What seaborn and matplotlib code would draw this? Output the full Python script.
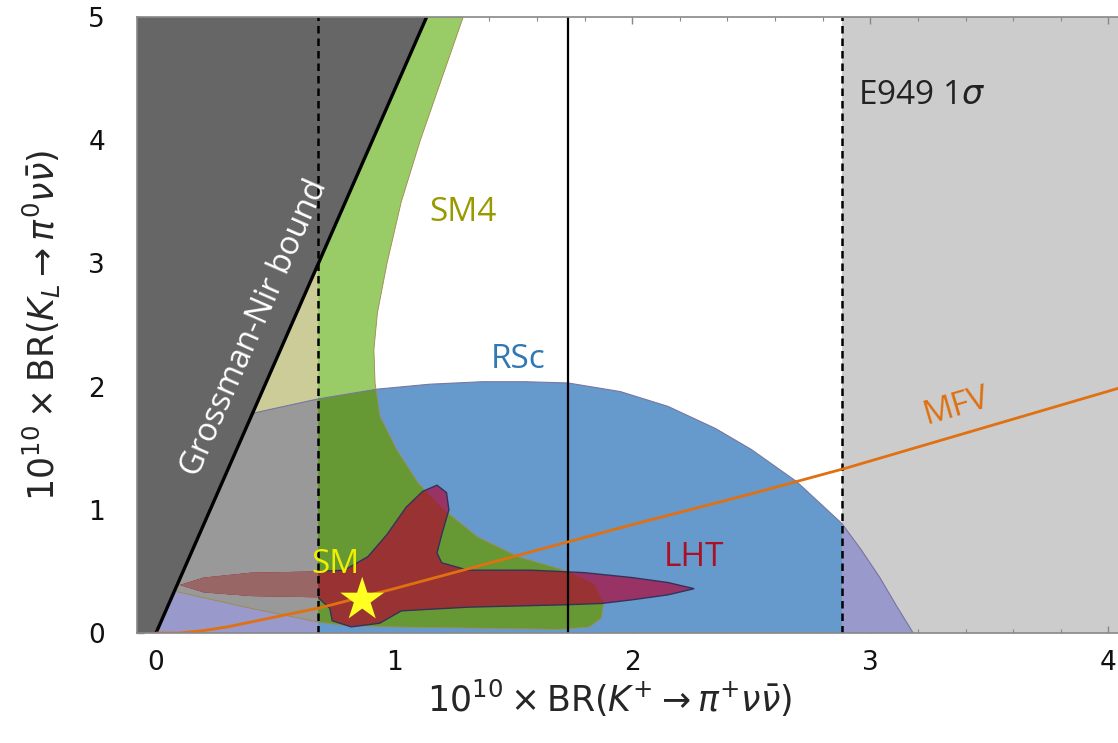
import numpy as np
import matplotlib
matplotlib.use("Agg")
import matplotlib.pyplot as plt
from matplotlib.patches import Polygon
from matplotlib.transforms import Bbox, TransformedBbox
import seaborn as sns

# E949 measurement: central value and 1 sigma band
e949_center = 1.73
e949_low = 0.68
e949_high = 2.88

# Grossman-Nir bound: BR(KL) <= 4.4 BR(K+)
gn_slope = 4.4

# RSc region, upper edge (lower edge is the x axis)
rsc_x = [-0.1, 0.2, 0.42, 0.68, 0.93, 1.15, 1.37, 1.55, 1.73, 1.95, 2.15, 2.35, 2.5, 2.69, 2.88, 2.96, 3.04, 3.11, 3.18]
rsc_y = [1.45, 1.65, 1.79, 1.90, 1.98, 2.02, 2.04, 2.04, 2.03, 1.96, 1.84, 1.66, 1.49, 1.23, 0.89, 0.68, 0.45, 0.22, 0.0]

# SM4 region, outer edge from the top down, then bottom edge going left
sm4_x = [1.29, 1.20, 1.11, 1.03, 0.97, 0.93, 0.915, 0.92, 0.94, 1.01, 1.10, 1.21, 1.35, 1.52, 1.73,
         1.84, 1.88, 1.87, 1.82, 1.70, 1.0, 0.8, 0.68, 0.4, 0.1, -0.1]
sm4_y = [5.0, 4.5, 4.0, 3.5, 3.0, 2.6, 2.3, 2.03, 1.76, 1.49, 1.22, 1.0, 0.78, 0.62, 0.50,
         0.40, 0.25, 0.12, 0.05, 0.03, 0.05, 0.06, 0.09, 0.2, 0.33, 0.42]

# LHT region outline
lht_x = [0.10, 0.2, 0.4, 0.68, 0.79, 0.89, 0.97, 1.05, 1.12, 1.18, 1.22, 1.23, 1.20, 1.18, 1.20, 1.31, 1.58,
         1.80, 2.0, 2.15, 2.26, 2.15, 2.0, 1.87, 1.73, 1.31, 1.03, 0.94, 0.82, 0.74, 0.73, 0.68, 0.4, 0.2]
lht_y = [0.39, 0.45, 0.49, 0.50, 0.51, 0.62, 0.80, 1.02, 1.15, 1.20, 1.14, 1.0, 0.80, 0.65, 0.57, 0.51, 0.51,
         0.49, 0.45, 0.41, 0.36, 0.31, 0.27, 0.24, 0.23, 0.21, 0.18, 0.08, 0.05, 0.1, 0.2, 0.29, 0.30, 0.33]

# MFV curve
mfv_x = [0.0, 0.1, 0.2, 0.3, 0.4, 0.5, 0.7, 1.0, 1.5, 2.0, 2.5, 2.9, 3.5, 4.1]
mfv_y = [0.0, 0.0, 0.02, 0.05, 0.09, 0.13, 0.21, 0.36, 0.62, 0.88, 1.13, 1.34, 1.68, 2.02]

# Standard Model point
sm_x = [0.866]
sm_y = [0.27]

xmin, xmax = -0.08, 4.04
ymin, ymax = 0.0, 5.0

sns.set_style("ticks")
plt.rcParams['font.family'] = ['DejaVu Sans']
plt.rcParams['mathtext.fontset'] = 'dejavusans'

fig = plt.figure(figsize=(11.18, 7.43), dpi=100)
ax = fig.add_axes([0.1225, 0.148, 0.8775, 0.829])
ax.set_xlim(xmin, xmax)
ax.set_ylim(ymin, ymax)


def region(xs, ys, color, z, clip=None, box=None):
    p = Polygon(np.column_stack([xs, ys]), closed=True, facecolor=color,
                edgecolor='none', zorder=z)
    ax.add_patch(p)
    if clip is not None:
        p.set_clip_path(clip)
    if box is not None:
        p.set_clip_box(TransformedBbox(Bbox(box), ax.transData))
    return p


left_box = [[xmin, ymin], [e949_low, ymax]]
right_box = [[e949_high, ymin], [xmax, ymax]]

# E949 excluded bands
ax.axvspan(xmin, e949_low, color='#cccccc', lw=0, zorder=0.5)
ax.axvspan(e949_high, xmax, color='#cccccc', lw=0, zorder=0.5)

rsc_px = rsc_x + [rsc_x[-1], rsc_x[0]]
rsc_py = rsc_y + [-0.05, -0.05]
sm4_px = [1.31, sm4_x[0]] + sm4_x[1:] + [-0.1]
sm4_py = [5.2, sm4_y[0]] + sm4_y[1:] + [5.2]

rsc = region(rsc_px, rsc_py, '#6699cc', 1.0)
region(rsc_px, rsc_py, '#9999cc', 1.1, box=left_box)
region(rsc_px, rsc_py, '#9999cc', 1.1, box=right_box)

sm4 = region(sm4_px, sm4_py, '#99cc66', 1.2)
region(sm4_px, sm4_py, '#cccc99', 1.3, box=left_box)
region(sm4_px, sm4_py, '#669933', 1.4, clip=rsc)
region(sm4_px, sm4_py, '#999999', 1.5, clip=rsc, box=left_box)

# outlines of the model regions
ax.add_patch(Polygon(np.column_stack([rsc_px, rsc_py]), closed=True, fill=False,
                     edgecolor='#7777a0', lw=0.8, zorder=1.55))
ax.add_patch(Polygon(np.column_stack([sm4_px, sm4_py]), closed=True, fill=False,
                     edgecolor='#a08850', lw=0.6, zorder=1.55))

region(lht_x, lht_y, '#993366', 1.6)
region(lht_x, lht_y, '#993333', 1.7, clip=sm4)
region(lht_x, lht_y, '#996666', 1.8, box=left_box)
lht_edge = Polygon(np.column_stack([lht_x, lht_y]), closed=True, fill=False,
                   edgecolor='#33335a', lw=1.0, zorder=1.85)
ax.add_patch(lht_edge)
lht_edge.set_clip_box(TransformedBbox(Bbox([[e949_low, ymin], [xmax, ymax]]), ax.transData))

# Grossman-Nir excluded region
gn_top = ymax / gn_slope
ax.add_patch(Polygon([[xmin, ymin], [0, 0], [gn_top, ymax], [xmin, ymax]], closed=True,
                     facecolor='#666666', edgecolor='none', zorder=3))
ax.plot([0, gn_top], [0, ymax], color='black', lw=2.4, zorder=3.5, solid_capstyle='butt')

# E949 lines
ax.axvline(e949_low, color='black', lw=1.8, ls=(0, (3, 2)), zorder=4)
ax.axvline(e949_high, color='black', lw=1.8, ls=(0, (3, 2)), zorder=4)
ax.axvline(e949_center, color='black', lw=1.6, zorder=4)

# MFV line
sns.lineplot(x=mfv_x, y=mfv_y, color='#e07010', lw=2.0, ax=ax, zorder=5, sort=False)

# SM point
sns.scatterplot(x=sm_x, y=sm_y, marker='*', s=1100, color='#ffff22', edgecolor='none',
                ax=ax, zorder=6, legend=False)

lab = dict(family=['Open Sans', 'DejaVu Sans'], fontsize=24, ha='center', va='center')
ax.text(0.416, 2.48, 'Grossman-Nir bound', color='white', rotation=66.3, zorder=7,
        rotation_mode='anchor', **dict(lab, fontsize=23.5))
ax.text(1.29, 3.41, 'SM4', color='#999900', zorder=7, **lab)
ax.text(1.52, 2.22, 'RSc', color='#2f78b4', zorder=7, **lab)
ax.text(2.26, 0.61, 'LHT', color='#aa1122', zorder=7, **lab)
ax.text(0.752, 0.553, 'SM', color='#eeee00', zorder=7, **lab)
ax.text(3.36, 1.84, 'MFV', color='#e07010', rotation=16.4, rotation_mode='anchor', zorder=7, **lab)
ax.text(2.95, 4.36, r'E949 1$\sigma$', color='#222222', zorder=7,
        **dict(lab, ha='left'))

# axes styling
ax.set_xticks([0, 1, 2, 3, 4])
ax.set_yticks([0, 1, 2, 3, 4, 5])
ax.set_xticks(np.arange(0, 4.05, 0.2), minor=True)
ax.tick_params(axis='both', which='both', direction='in', colors='#888888',
               labelcolor='#111111', top=True, right=False)
ax.tick_params(axis='both', which='major', length=5, width=1.0, labelsize=19)
ax.tick_params(axis='both', which='minor', length=3, width=0.8)
ax.tick_params(axis='x', which='major', pad=12)
ax.tick_params(axis='y', which='major', pad=23)
for s in ['left', 'bottom', 'top']:
    ax.spines[s].set_color('#888888')
    ax.spines[s].set_linewidth(1.2)
    ax.spines[s].set_zorder(8)
ax.spines['right'].set_visible(False)

ax.set_xlabel(r'$10^{10}\times\mathrm{BR}(K^{+}\rightarrow\pi^{+}\nu\bar{\nu})$', fontsize=25)
ax.xaxis.set_label_coords(0.482, -0.073)
ax.set_ylabel(r'$10^{10}\times\mathrm{BR}(K_{L}\rightarrow\pi^{0}\nu\bar{\nu})$', fontsize=25, labelpad=18)

fig.savefig('out.png', dpi=100)
